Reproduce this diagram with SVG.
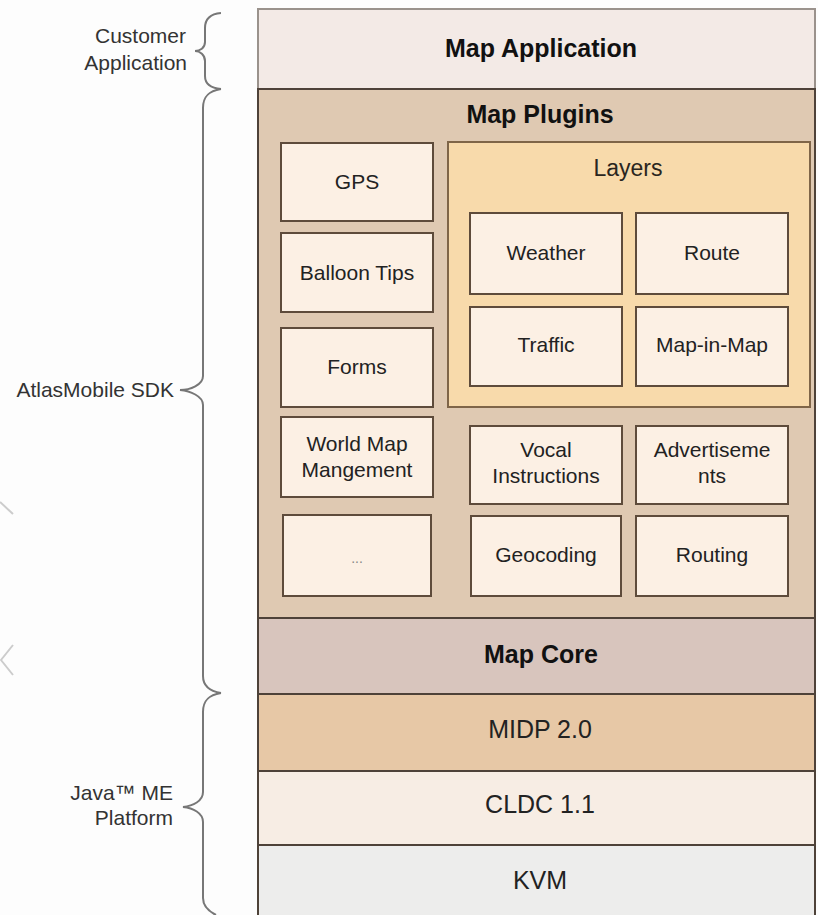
<svg xmlns="http://www.w3.org/2000/svg" width="818" height="915" viewBox="0 0 818 915">
<style>
text{font-family:"Liberation Sans",Arial,sans-serif;fill:#222}
.band{stroke:#4e4239;stroke-width:2}
.big{font-size:25px;text-anchor:middle}
.bold{font-weight:bold;fill:#111}
.box{fill:#fcf0e4;stroke:#5e4b3b;stroke-width:2}
.lbl{font-size:21px;text-anchor:middle}
.side{font-size:21px;text-anchor:end;fill:#333}
.brace{fill:none;stroke:#777;stroke-width:2}
</style>
<rect width="818" height="915" fill="#fdfdfd"/>
<g id="connectors">
<path class="brace" d="M221,13 C209,14 205,20 205,28 L205,42 C205,48 200,51 195,51 C200,51 205,55 205,61 L205,76 C205,84 210,88 221,89"/>
<path class="brace" d="M221,89 C208,91 203,97 203,108 L203,376 C203,385 190,390 180,390 C190,391 203,396 203,405 L203,676 C203,686 209,691 221,693"/>
<path class="brace" d="M221,693 C208,695 203,701 203,712 L203,792 C203,801 193,806 183,807 C193,808 203,813 203,822 L203,898 C203,906 208,911 216,915"/>
<path d="M0,502 L13,514" fill="none" stroke="#ccc" stroke-width="2"/>
<path d="M13,645 L1,660 L13,675" fill="none" stroke="#ccc" stroke-width="2"/>
</g>
<g id="labels">
<text class="side" x="186" y="43">Customer</text>
<text class="side" x="187" y="70">Application</text>
<text class="side" x="174" y="397">AtlasMobile SDK</text>
<text class="side" x="173" y="800">Java™ ME</text>
<text class="side" x="173" y="825">Platform</text>
</g>
<g id="map-application">
<rect x="258" y="9" width="557" height="80" fill="#f3eae6" stroke="#9a928c" stroke-width="2"/>
<text class="big bold" x="541" y="57">Map Application</text>
</g>
<g id="map-plugins">
<rect class="band" x="258" y="89" width="557" height="529" fill="#dfc9b2"/>
<text class="big bold" x="540" y="123">Map Plugins</text>
</g>
<g id="gps"><rect class="box" x="281" y="143" width="152" height="78"/><text class="lbl" x="357" y="189">GPS</text></g>
<g id="balloon-tips"><rect class="box" x="281" y="233" width="152" height="79"/><text class="lbl" x="357" y="280">Balloon Tips</text></g>
<g id="forms"><rect class="box" x="281" y="328" width="152" height="79"/><text class="lbl" x="357" y="374">Forms</text></g>
<g id="world-map"><rect class="box" x="281" y="417" width="152" height="80"/><text class="lbl" x="357" y="451">World Map</text><text class="lbl" x="357" y="477">Mangement</text></g>
<g id="more"><rect class="box" x="283" y="515" width="148" height="81"/><text class="lbl" x="357" y="563" style="font-size:14px;fill:#888">...</text></g>
<g id="layers">
<rect x="448" y="142" width="362" height="265" fill="#f8daab" stroke="#7f6548" stroke-width="2"/>
<text x="628" y="176" style="font-size:23px;text-anchor:middle;fill:#2a2520">Layers</text>
</g>
<g id="weather"><rect class="box" x="470" y="213" width="152" height="81"/><text class="lbl" x="546" y="260">Weather</text></g>
<g id="route"><rect class="box" x="636" y="213" width="152" height="81"/><text class="lbl" x="712" y="260">Route</text></g>
<g id="traffic"><rect class="box" x="470" y="307" width="152" height="79"/><text class="lbl" x="546" y="352">Traffic</text></g>
<g id="map-in-map"><rect class="box" x="636" y="307" width="152" height="79"/><text class="lbl" x="712" y="352">Map-in-Map</text></g>
<g id="vocal"><rect class="box" x="470" y="426" width="152" height="78"/><text class="lbl" x="546" y="457">Vocal</text><text class="lbl" x="546" y="483">Instructions</text></g>
<g id="ads"><rect class="box" x="636" y="426" width="152" height="78"/><text class="lbl" x="712" y="457">Advertiseme</text><text class="lbl" x="712" y="483">nts</text></g>
<g id="geocoding"><rect class="box" x="471" y="516" width="150" height="80"/><text class="lbl" x="546" y="562">Geocoding</text></g>
<g id="routing"><rect class="box" x="636" y="516" width="152" height="80"/><text class="lbl" x="712" y="562">Routing</text></g>
<g id="map-core">
<rect class="band" x="258" y="618" width="557" height="76" fill="#d8c5bd"/>
<text class="big bold" x="541" y="663">Map Core</text>
</g>
<g id="midp">
<rect class="band" x="258" y="694" width="557" height="77" fill="#e7c8a6"/>
<text class="big" x="540" y="738">MIDP 2.0</text>
</g>
<g id="cldc">
<rect class="band" x="258" y="771" width="557" height="74" fill="#f7ede4"/>
<text class="big" x="540" y="813">CLDC 1.1</text>
</g>
<g id="kvm">
<rect class="band" x="258" y="845" width="557" height="80" fill="#ededec"/>
<text class="big" x="540" y="889">KVM</text>
</g>
</svg>
